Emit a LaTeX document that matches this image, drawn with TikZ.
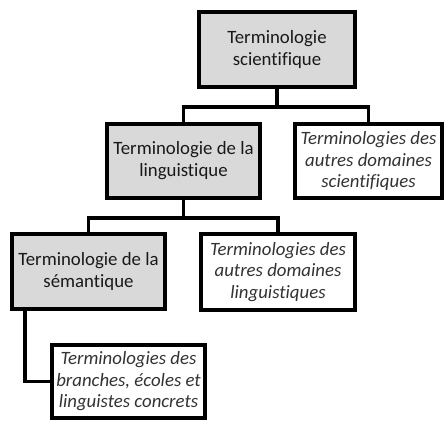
\documentclass[tikz,border=0pt]{standalone}
\usepackage{fontspec}
\setmainfont{Carlito}[Ligatures=NoCommon]
\begin{document}
\begin{tikzpicture}[x=1pt,y=1pt,
  box/.style={draw=black, line width=3.7pt, align=center, inner sep=2pt,
    font=\fontsize{18.8}{22}\selectfont, text=black!90},
  grey/.style={box, fill=black!15},
  plain/.style={box, fill=white, font=\fontsize{18.8}{21.5}\selectfont\itshape, text=black!80},
  link/.style={line width=3.7pt, line join=miter}]
\useasboundingbox (0,0) rectangle (445,-422);
\node[grey, minimum width=156, minimum height=75] (b1) at (277,-49.5) {Terminologie\\scientifique};
\node[grey, minimum width=153, minimum height=74] (b2) at (183.5,-161) {Terminologie de la\\linguistique};
\node[plain, minimum width=147, minimum height=74] (b3) at (368.5,-161) {Terminologies des\\autres domaines\\scientifiques};
\node[grey, minimum width=153, minimum height=75] (b4) at (88.5,-271.5) {Terminologie de la\\sémantique};
\node[plain, minimum width=154, minimum height=76] (b5) at (278,-272) {Terminologies des\\autres domaines\\linguistiques};
\node[plain, minimum width=153, minimum height=73] (b6) at (128.5,-381.5) {Terminologies des\\branches, écoles et\\linguistes concrets};
\coordinate (j1) at (277,-107);
\coordinate (j2) at (183.5,-218);
\draw[link] (b1.south) -- (j1);
\draw[link] (b2.north) |- (j1) -| (b3.north);
\draw[link] (b2.south) -- (j2);
\draw[link] (b4.north) |- (j2) -| (b5.north);
\draw[link] ([xshift=15pt]b4.south west) |- (b6.west);
\end{tikzpicture}
\end{document}
